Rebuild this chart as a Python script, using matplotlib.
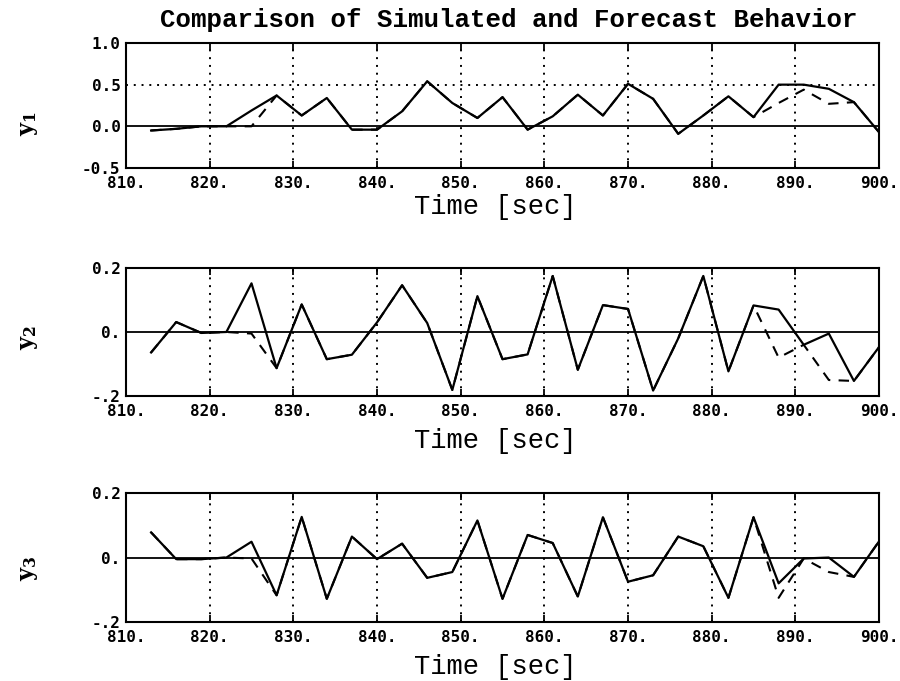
import matplotlib

matplotlib.use("Agg")
import matplotlib.pyplot as plt

plt.rcParams["mathtext.fontset"] = "dejavuserif"

# sample times [sec]
time_s = [813, 816, 819, 822, 825, 828, 831, 834, 837, 840,
          843, 846, 849, 852, 855, 858, 861, 864, 867, 870,
          873, 876, 879, 882, 885, 888, 891, 894, 897, 900]

# simulated (solid) and forecast (dashed) outputs
y1_sim = [-0.05, -0.03, 0.0, 0.0, 0.19, 0.37, 0.13, 0.34, -0.04, -0.04,
          0.18, 0.54, 0.28, 0.10, 0.35, -0.04, 0.12, 0.38, 0.13, 0.51,
          0.33, -0.09, 0.13, 0.36, 0.11, 0.50, 0.50, 0.45, 0.29, -0.07]
y1_fc = [-0.05, -0.03, 0.0, 0.0, 0.0, 0.37, 0.13, 0.34, -0.04, -0.04,
         0.18, 0.54, 0.28, 0.10, 0.35, -0.04, 0.12, 0.38, 0.13, 0.51,
         0.33, -0.09, 0.13, 0.36, 0.11, 0.28, 0.44, 0.27, 0.29, -0.07]

y2_sim = [-0.064, 0.031, -0.003, 0.0, 0.152, -0.113, 0.086, -0.085, -0.071, 0.03,
          0.146, 0.028, -0.181, 0.112, -0.085, -0.07, 0.175, -0.118, 0.084, 0.072,
          -0.183, -0.02, 0.175, -0.123, 0.083, 0.07, -0.04, -0.005, -0.153, -0.047]
y2_fc = [-0.064, 0.031, -0.003, 0.0, -0.005, -0.113, 0.086, -0.085, -0.071, 0.03,
         0.146, 0.028, -0.181, 0.112, -0.085, -0.07, 0.175, -0.118, 0.084, 0.072,
         -0.183, -0.02, 0.175, -0.123, 0.083, -0.08, -0.04, -0.15, -0.153, -0.047]

y3_sim = [0.078, -0.005, -0.005, 0.0, 0.049, -0.117, 0.126, -0.128, 0.065, -0.005,
          0.043, -0.063, -0.045, 0.115, -0.128, 0.07, 0.045, -0.121, 0.125, -0.075,
          -0.055, 0.065, 0.035, -0.125, 0.125, -0.08, -0.003, 0.0, -0.06, 0.05]
y3_fc = [0.078, -0.005, -0.005, 0.0, -0.003, -0.117, 0.126, -0.128, 0.065, -0.005,
         0.043, -0.063, -0.045, 0.115, -0.128, 0.07, 0.045, -0.121, 0.125, -0.075,
         -0.055, 0.065, 0.035, -0.125, 0.125, -0.125, -0.003, -0.045, -0.06, 0.05]

x_ticks = [810, 820, 830, 840, 850, 860, 870, 880, 890, 900]
x_tick_labels = ["810.", "820.", "830.", "840.", "850.", "860.", "870.", "880.", "890.", "900."]

y1_ticks = [-0.5, 0.0, 0.5, 1.0]
y1_tick_labels = ["-0.5", "0.0", "0.5", "1.0"]
y23_ticks = [-0.2, 0.0, 0.2]
y23_tick_labels = ["-.2", "0.", "0.2"]

title = "Comparison of Simulated and Forecast Behavior"
x_label = "Time [sec]"

panels = [
    # rect, ylabel, sim, fc, ylim, ticks, labels, dotted h-lines, xlabel y, ylabel y
    ([0.140, 0.7533, 0.8367, 0.1836], r"$\mathbf{y}_{\mathbf{1}}$", y1_sim, y1_fc,
     (-0.5, 1.0), y1_ticks, y1_tick_labels, [0.5], 0.696, 0.819),
    ([0.140, 0.4185, 0.8367, 0.1880], r"$\mathbf{y}_{\mathbf{2}}$", y2_sim, y2_fc,
     (-0.2, 0.2), y23_ticks, y23_tick_labels, [], 0.352, 0.504),
    ([0.140, 0.0866, 0.8367, 0.1894], r"$\mathbf{y}_{\mathbf{3}}$", y3_sim, y3_fc,
     (-0.2, 0.2), y23_ticks, y23_tick_labels, [], 0.021, 0.166),
]

tick_font = {"family": "DejaVu Sans Mono", "weight": "bold", "size": 11.5}
mono = "Liberation Mono"

fig = plt.figure(figsize=(9, 6.81), dpi=100)

for rect, ylab, sim, fc, ylim, yt, ytl, hdots, xlab_y, ylab_y in panels:
    ax = fig.add_axes(rect)
    ax.set_xlim(810, 900)
    ax.set_ylim(*ylim)
    for xv in x_ticks[1:-1]:
        ax.axvline(xv, color="black", linewidth=1.4, linestyle=(0, (1, 3)))
    for yv in hdots:
        ax.axhline(yv, color="black", linewidth=1.4, linestyle=(0, (1, 3)))
    ax.axhline(0.0, color="black", linewidth=1.3)
    ax.plot(time_s, fc, color="black", linewidth=1.5, linestyle=(0, (5, 4)))
    ax.plot(time_s, sim, color="black", linewidth=1.6)

    ax.set_xticks(x_ticks)
    ax.set_xticklabels(x_tick_labels, fontdict=tick_font)
    ax.set_yticks(yt)
    ax.set_yticklabels(ytl, fontdict=tick_font)
    ax.tick_params(axis="x", direction="in", length=5, width=1.3, top=True, pad=6)
    ax.tick_params(axis="y", length=0, pad=4)
    for spine in ax.spines.values():
        spine.set_linewidth(1.5)

    fig.text(0.55, xlab_y, x_label, ha="center", va="center",
             family=mono, fontsize=19.5)
    fig.text(0.033, ylab_y, ylab, ha="center", va="center",
             rotation=90, fontsize=16)

fig.text(0.565, 0.9706, title, ha="center", va="center",
         family=mono, weight="bold", fontsize=18.5)

fig.savefig("out.png", dpi=100)
